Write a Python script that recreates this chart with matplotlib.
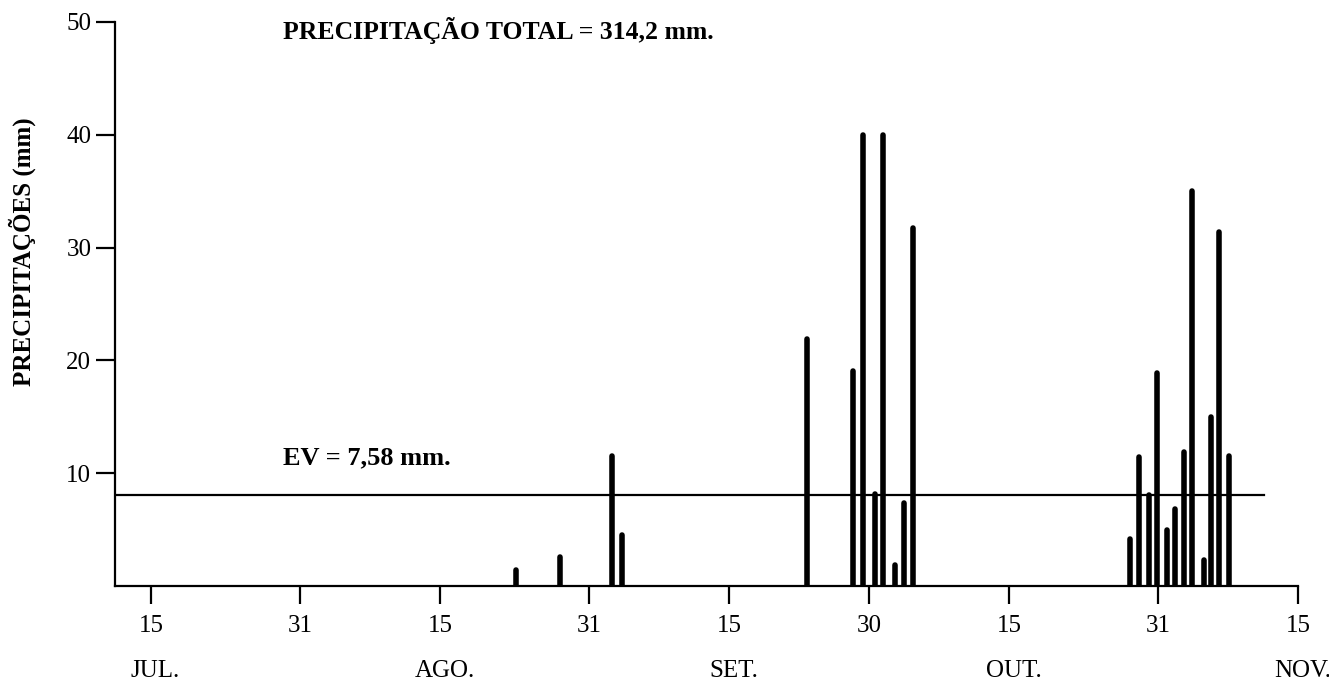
#!/usr/bin/env python3
"""Daily rainfall bars, Jul-Nov, with the EV reference line."""
import matplotlib

matplotlib.use("Agg")
import matplotlib.pyplot as plt
from matplotlib.transforms import blended_transform_factory

# day of year (picture read) and rainfall in mm
rain_days = [235.1, 239.9, 245.4, 246.5,
             266.3, 271.3, 272.4, 273.6, 274.5, 275.8, 276.8, 277.7,
             301.0, 301.9, 303.0, 303.9, 304.9, 305.8, 306.8, 307.6,
             308.9, 309.7, 310.5, 311.6]
rain_mm = [1.4, 2.6, 11.5, 4.5,
           21.9, 19.1, 40.0, 8.2, 40.0, 1.9, 7.4, 31.7,
           4.2, 11.4, 8.1, 18.9, 5.0, 6.8, 11.9, 35.0,
           2.3, 15.0, 31.4, 11.5]

ev_value = 8.1          # where the line is drawn
ev_label = "EV = 7,58 mm."
title = "PRECIPITAÇÃO TOTAL = 314,2 mm."

tick_days = [196, 212, 227, 243, 258, 273, 288, 304, 319]
tick_labels = ["15", "31", "15", "31", "15", "30", "15", "31", "15"]
month_days = [196, 227, 258, 288, 319]
month_names = ["JUL.", "AGO.", "SET.", "OUT.", "NOV."]

plt.rcParams["font.family"] = ["Liberation Serif", "DejaVu Serif"]

fig = plt.figure(figsize=(13.29, 6.83), dpi=100)
ax = fig.add_axes([0.0865, 0.142, 0.8902, 0.8258])

lc = ax.vlines(rain_days, 0, rain_mm, colors="black", linewidth=4.0)
lc.set_capstyle("round")

ax.plot([192.14, 311.6 + 3.7], [ev_value, ev_value], color="black", lw=1.6)

ax.set_xlim(192.14, 319)
ax.set_ylim(0, 50)

for s in ("top", "right"):
    ax.spines[s].set_visible(False)
for s in ("left", "bottom"):
    ax.spines[s].set_linewidth(1.6)

ax.set_yticks([10, 20, 30, 40, 50])
ax.set_xticks(tick_days)
ax.set_xticklabels(tick_labels)
ax.tick_params(axis="y", direction="out", length=14, width=1.6, pad=3, labelsize=18)
ax.tick_params(axis="x", direction="out", length=13, width=1.6, pad=8, labelsize=18)

trans = blended_transform_factory(ax.transData, ax.transAxes)
for d, m in zip(month_days, month_names):
    ax.text(d + 0.5, -0.1507, m, transform=trans, ha="center", va="center", fontsize=18)

ax.set_ylabel("PRECIPITAÇÕES (mm)", fontsize=18, fontweight="bold", va="center")
ax.yaxis.set_label_coords(-0.0786, 0.592)

ax.text(210.2, 48.5, title, fontsize=18.5, fontweight="bold", va="baseline")
ax.text(210.2, 10.8, ev_label, fontsize=19, fontweight="bold", va="baseline")

fig.savefig("out.png", dpi=100)
